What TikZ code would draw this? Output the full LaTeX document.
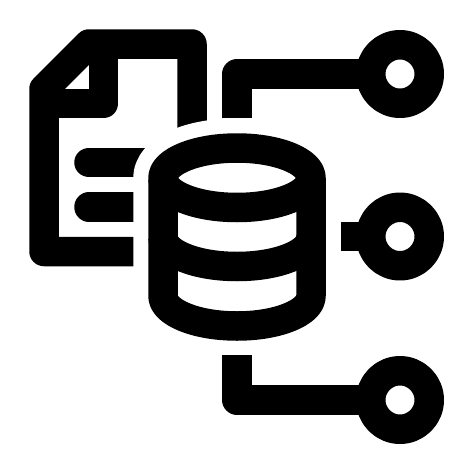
\documentclass[tikz,border=0pt]{standalone}
\begin{document}
\begin{tikzpicture}[x=1pt,y=-1pt,line cap=butt,line join=round,
	wire/.style={line width=29.5pt},
	port/.style={circle,draw,line width=29.5pt,minimum size=58.5pt,inner sep=0pt,outer sep=0pt}]
	\useasboundingbox (0,0) rectangle (474,474);
	% sheet of paper
	\draw[wire] (192,170)--(192,44)--(89,44)--(44,89)--(44,251.5)--(180,251.5);
	\draw[wire] (103.5,44)--(103.5,103.5)--(44,103.5);
	\draw[wire,line cap=round] (89,162.5)--(180,162.5);
	\draw[wire,line cap=round] (89,207)--(180,207);
	% gap round the drum
	\draw[white,line width=59.5pt] (163,178) arc[start angle=180,end angle=360,x radius=74,y radius=30]
		--(311,296) arc[start angle=0,end angle=180,x radius=74,y radius=30]--cycle;
	\fill[white] (163,178) rectangle (311,296);
	% drum
	\draw[wire] (163,178) arc[start angle=180,end angle=360,x radius=74,y radius=30]
		--(311,296) arc[start angle=0,end angle=180,x radius=74,y radius=30]--cycle;
	\draw[wire] (163,178) arc[start angle=180,end angle=0,x radius=74,y radius=29.5];
	\draw[wire] (163,237) arc[start angle=180,end angle=0,x radius=74,y radius=29.5];
	% ports
	\node[port] (p1) at (400,74) {};
	\node[port] (p2) at (400,236.5) {};
	\node[port] (p3) at (400,400) {};
	\coordinate (c1) at (237,118);
	\coordinate (c2) at (341,236.5);
	\coordinate (c3) at (237,355);
	\draw[wire] (c1) |- (p1);
	\draw[wire] (c2) -- (p2);
	\draw[wire] (c3) |- (p3);
\end{tikzpicture}
\end{document}
